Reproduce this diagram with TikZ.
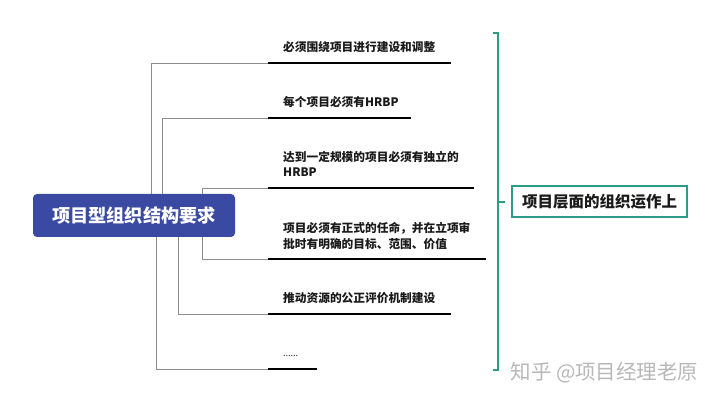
\documentclass[tikz,border=0pt]{standalone}
\usepackage{fontspec}
\setmainfont{Noto Sans CJK SC}
\definecolor{mainblue}{RGB}{58,74,163}
\definecolor{brteal}{RGB}{46,155,134}
\definecolor{conngray}{RGB}{140,140,140}
\definecolor{txt}{RGB}{26,26,26}
\tikzset{
  conn/.style={draw=conngray, line width=0.8pt},
  uline/.style={draw=black, line width=2.6pt},
  item/.style={anchor=north west, inner sep=0pt, align=left, text=txt,
    font=\fontsize{11.7}{15.8}\selectfont\bfseries},
  mainbox/.style={fill=mainblue, rounded corners=4pt, text=white,
    minimum width=202pt, minimum height=43pt, inner sep=0pt,
    font=\fontsize{18.2}{20}\selectfont\bfseries},
  rbox/.style={draw=brteal, line width=1.4pt, fill=white, text=txt,
    minimum width=175pt, minimum height=31pt, inner sep=0pt,
    font=\fontsize{15.5}{18}\selectfont\bfseries},
  bracket/.style={draw=brteal, line width=1.4pt},
  wm/.style={text=black!28, inner sep=0pt, font=\fontsize{20.5}{22}\selectfont}
}
\begin{document}
\begin{tikzpicture}[x=1pt,y=-1pt]
\useasboundingbox (0,0) rectangle (720,403);
% underline coordinates
\coordinate (u1s) at (268,63);  \coordinate (u1e) at (451,63);
\coordinate (u2s) at (268,118); \coordinate (u2e) at (411,118);
\coordinate (u3s) at (268,188); \coordinate (u3e) at (474,188);
\coordinate (u4s) at (268,259); \coordinate (u4e) at (486,259);
\coordinate (u5s) at (268,314); \coordinate (u5e) at (451,314);
\coordinate (u6s) at (268,369); \coordinate (u6e) at (317,369);
\coordinate (j3) at (202,188); \coordinate (j4) at (202,259);
% connectors (drawn below the main box)
\node[mainbox, draw=none, fill=none, text=white] (mainpos) at (134,215.5) {};
\draw[conn] ([xshift=119pt]mainpos.north west) |- (u1s);
\draw[conn] ([xshift=130pt]mainpos.north west) |- (u2s);
\draw[conn] (u3s) -- (j3) -- (j4) -- (u4s);
\draw[conn] ([xshift=146pt]mainpos.south west) |- (u5s);
\draw[conn] ([xshift=124pt]mainpos.south west) |- (u6s);
% main box
\node[mainbox] (main) at (134,215.5) {项目型组织结构要求};
% underlines
\draw[uline] (u1s) -- (u1e);
\draw[uline] (u2s) -- (u2e);
\draw[uline] (u3s) -- (u3e);
\draw[uline] (u4s) -- (u4e);
\draw[uline] (u5s) -- (u5e);
\draw[uline] (u6s) -- (u6e);
% item texts
\node[item] (t1) at (283,41.2) {必须围绕项目进行建设和调整};
\node[item] (t2) at (283,96.2) {每个项目必须有HRBP};
\node[item] (t3) at (283,150.8) {达到一定规模的项目必须有独立的\\HRBP};
\node[item] (t4) at (283,221.8) {项目必须有正式的任命，并在立项审\\批时有明确的目标、范围、价值};
\node[item] (t5) at (283,292.2) {推动资源的公正评价机制建设};
\node[item, anchor=base west, font=\fontsize{9}{10}\selectfont] (t6) at (283,356) {......};
% bracket
\coordinate (bt0) at (493,33); \coordinate (bt1) at (498,33);
\coordinate (bb0) at (493,370); \coordinate (bb1) at (498,370);
\coordinate (bm) at (498,202);
\draw[bracket] (bt0) -- (bt1) -- (bb1) -- (bb0);
\node[rbox] (rb) at (599.5,201.5) {项目层面的组织运作上};
\draw[bracket] (bm) -- ([xshift=-6pt]rb.west |- bm);
% watermark
\node[wm] (wmark) at (604.5,372.5) {知乎 @项目经理老原};
\end{tikzpicture}
\end{document}
